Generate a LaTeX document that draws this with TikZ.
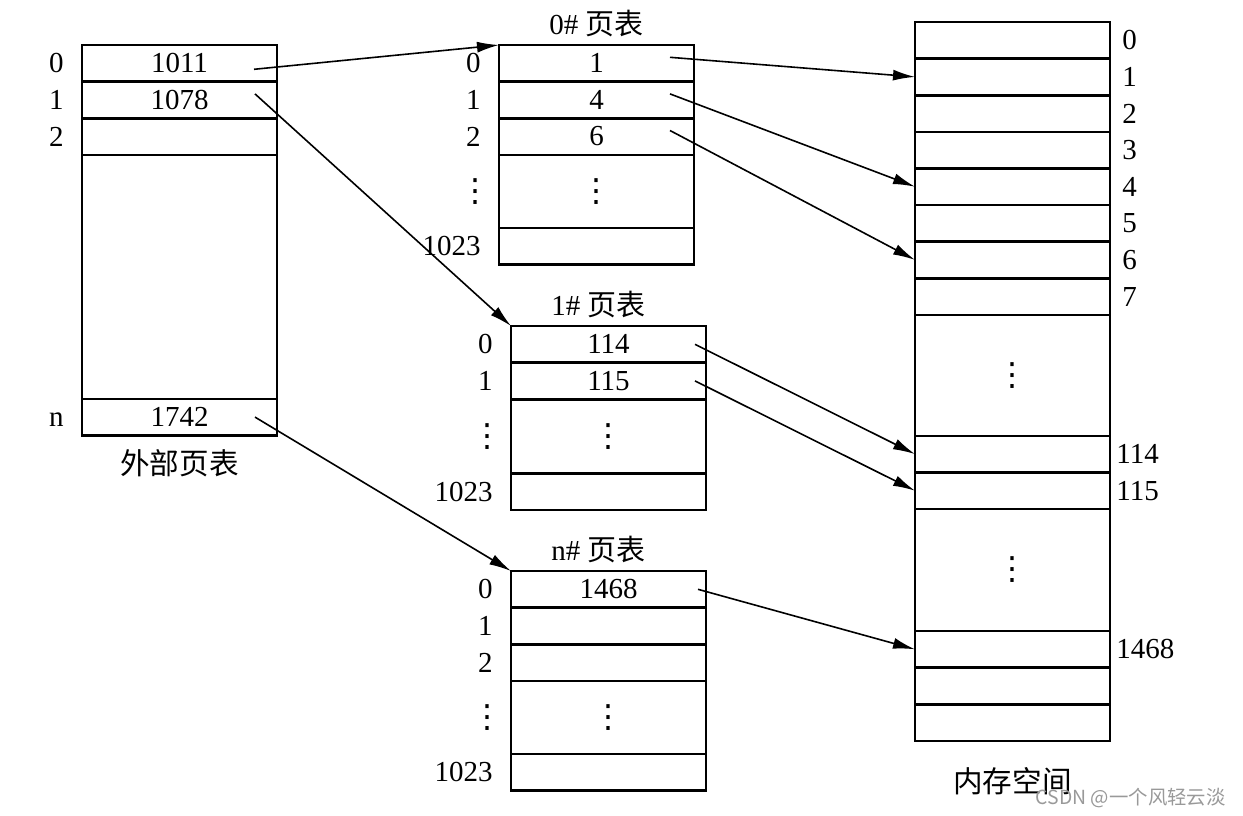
\documentclass[tikz,border=0pt]{standalone}
\usepackage{fontspec}
\setmainfont{Liberation Serif}
\newfontfamily\cjkfont{Noto Sans CJK SC}
\newfontfamily\symfont{DejaVu Sans}
\usetikzlibrary{arrows.meta,positioning}
\newcommand{\vdts}{{\symfont\fontsize{16}{16}\selectfont ⋮}}
\tikzset{
  tabcell/.style={draw, line width=1.3pt, minimum width=97.5pt, minimum height=18.3pt, inner sep=0pt, outer sep=0pt, font=\fontsize{14.5}{16}\selectfont},
  tabgap/.style={tabcell, minimum height=#1},
  idxlab/.style={inner sep=0pt, font=\fontsize{14.5}{16}\selectfont},
  tabtitle/.style={inner sep=1pt, font=\fontsize{14.5}{16}\selectfont},
  tabcap/.style={inner sep=1pt, font=\cjkfont\fontsize{14.8}{17}\selectfont},
  ptrarrow/.style={-{Latex[length=11pt,width=5.5pt]}, line width=0.8pt}
}
\begin{document}
\begin{tikzpicture}
\useasboundingbox (0,0) rectangle (621.5pt,-407.5pt);
% outer page table
\node[tabcell, anchor=north west] (ot0) at (41pt,-22.5pt) {1011};
\node[tabcell, below=0pt of ot0] (ot1) {1078};
\node[tabcell, below=0pt of ot1] (ot2) {};
\node[tabgap=122pt, below=0pt of ot2] (otgap) {};
\node[tabcell, below=0pt of otgap] (otn) {1742};
\node[idxlab, left=9pt of ot0] (ot0i) {0};
\node[idxlab, left=9pt of ot1] (ot1i) {1};
\node[idxlab, left=9pt of ot2] (ot2i) {2};
\node[idxlab, text height=9.6pt, text depth=0pt, left=9pt of otn] (otni) {n};
\node[tabcap, below=6pt of otn] (otcap) {外部页表};
% 0# page table
\node[tabcell, anchor=north west] (pa0) at (249.5pt,-22.5pt) {1};
\node[tabcell, below=0pt of pa0] (pa1) {4};
\node[tabcell, below=0pt of pa1] (pa2) {6};
\node[tabgap=36.6pt, below=0pt of pa2] (pagap) {\vdts};
\node[tabcell, below=0pt of pagap] (pa3) {};
\node[idxlab, left=9pt of pa0] (pa0i) {0};
\node[idxlab, left=9pt of pa1] (pa1i) {1};
\node[idxlab, left=9pt of pa2] (pa2i) {2};
\node[idxlab] (pagapi) at ([xshift=-12pt]pagap.west) {\vdts};
\node[idxlab, left=9pt of pa3] (pa3i) {1023};
\node[tabtitle, above=3pt of pa0] (patit) {0\# {\cjkfont 页表}};
% 1# page table
\node[tabcell, anchor=north west] (pb0) at (255.5pt,-163pt) {114};
\node[tabcell, below=0pt of pb0] (pb1) {115};
\node[tabgap=37pt, below=0pt of pb1] (pbgap) {\vdts};
\node[tabcell, below=0pt of pbgap] (pb3) {};
\node[idxlab, left=9pt of pb0] (pb0i) {0};
\node[idxlab, left=9pt of pb1] (pb1i) {1};
\node[idxlab] (pbgapi) at ([xshift=-12pt]pbgap.west) {\vdts};
\node[idxlab, left=9pt of pb3] (pb3i) {1023};
\node[tabtitle, above=3pt of pb0, xshift=-5pt] (pbtit) {1\# {\cjkfont 页表}};
% n# page table
\node[tabcell, anchor=north west] (pn0) at (255.5pt,-285.5pt) {1468};
\node[tabcell, below=0pt of pn0] (pn1) {};
\node[tabcell, below=0pt of pn1] (pn2) {};
\node[tabgap=36.6pt, below=0pt of pn2] (pngap) {\vdts};
\node[tabcell, below=0pt of pngap] (pn3) {};
\node[idxlab, left=9pt of pn0] (pn0i) {0};
\node[idxlab, left=9pt of pn1] (pn1i) {1};
\node[idxlab, left=9pt of pn2] (pn2i) {2};
\node[idxlab] (pngapi) at ([xshift=-12pt]pngap.west) {\vdts};
\node[idxlab, left=9pt of pn3] (pn3i) {1023};
\node[tabtitle, above=3pt of pn0, xshift=-5pt] (pntit) {n\# {\cjkfont 页表}};
% memory
\node[tabcell, anchor=north west] (m0) at (457.5pt,-11pt) {};
\node[tabcell, below=0pt of m0] (m1) {};
\node[tabcell, below=0pt of m1] (m2) {};
\node[tabcell, below=0pt of m2] (m3) {};
\node[tabcell, below=0pt of m3] (m4) {};
\node[tabcell, below=0pt of m4] (m5) {};
\node[tabcell, below=0pt of m5] (m6) {};
\node[tabcell, below=0pt of m6] (m7) {};
\node[tabgap=60.5pt, below=0pt of m7] (mgapa) {\vdts};
\node[tabcell, below=0pt of mgapa] (m114) {};
\node[tabcell, below=0pt of m114] (m115) {};
\node[tabgap=61pt, below=0pt of m115] (mgapb) {\vdts};
\node[tabcell, below=0pt of mgapb] (m1468) {};
\node[tabcell, below=0pt of m1468] (mx) {};
\node[tabcell, below=0pt of mx] (my) {};
\node[idxlab, right=6pt of m0] (m0i) {0};
\node[idxlab, right=6pt of m1] (m1i) {1};
\node[idxlab, right=6pt of m2] (m2i) {2};
\node[idxlab, right=6pt of m3] (m3i) {3};
\node[idxlab, right=6pt of m4] (m4i) {4};
\node[idxlab, right=6pt of m5] (m5i) {5};
\node[idxlab, right=6pt of m6] (m6i) {6};
\node[idxlab, right=6pt of m7] (m7i) {7};
\node[idxlab, right=3pt of m114] (m114i) {114};
\node[idxlab, right=3pt of m115] (m115i) {115};
\node[idxlab, right=3pt of m1468] (m1468i) {1468};
\node[tabcap, below=12pt of my] (mcap) {内存空间};
% pointers
\draw[ptrarrow] ([xshift=-11.5pt,yshift=-3pt]ot0.east) -- (pa0.north west);
\draw[ptrarrow] ([xshift=-11pt,yshift=3pt]ot1.east) -- (pb0.north west);
\draw[ptrarrow] ([xshift=-11pt]otn.east) -- (pn0.north west);
\draw[ptrarrow] ([xshift=-12pt,yshift=3pt]pa0.east) -- (m1.west);
\draw[ptrarrow] ([xshift=-12pt,yshift=3pt]pa1.east) -- (m4.west);
\draw[ptrarrow] ([xshift=-12pt,yshift=3pt]pa2.east) -- (m6.west);
\draw[ptrarrow] ([xshift=-5.5pt]pb0.east) -- (m114.west);
\draw[ptrarrow] ([xshift=-5.5pt]pb1.east) -- (m115.west);
\draw[ptrarrow] ([xshift=-4pt]pn0.east) -- (m1468.west);
\node[anchor=east, inner sep=0pt, text=black!40, font=\cjkfont\fontsize{9.7}{12}\selectfont] (mark) at (613pt,-399pt) {CSDN @一个风轻云淡};
\end{tikzpicture}
\end{document}
